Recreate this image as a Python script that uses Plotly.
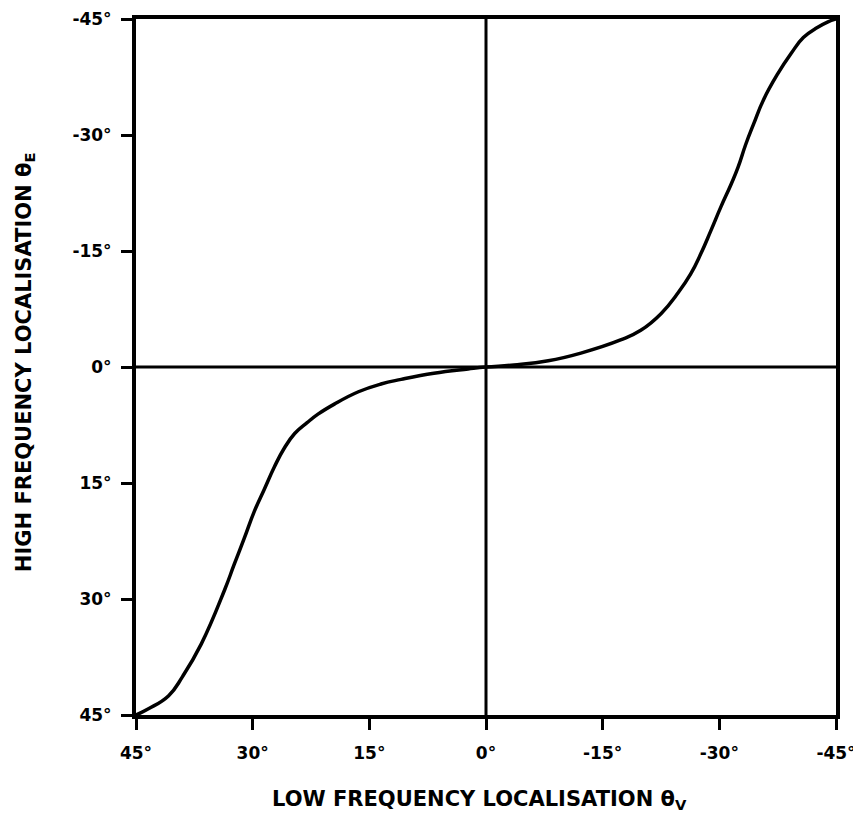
import plotly.graph_objects as go

# Data (degrees)
theta_v = [45.0, 43.4, 40.8, 39.0, 36.6, 33.6, 32.4, 31.1, 29.8, 28.5, 27.2, 26.0, 24.6, 23.0,
           21.6, 19.5, 16.4, 13.5, 10.9, 6.7, 2.3,
           0.0, -3.6, -8.0, -12.2, -17.3, -19.9, -22.5, -24.7, -26.3, -27.6, -28.9, -30.2,
           -31.5, -32.4, -33.4, -34.4, -35.7, -37.5, -39.2, -40.8, -42.6, -43.9, -45.0]
theta_e = [45.0, 44.2, 42.5, 40.0, 35.8, 28.8, 25.6, 22.2, 18.7, 15.8, 12.9, 10.6, 8.6, 7.2,
           6.1, 4.8, 3.2, 2.2, 1.6, 0.8, 0.25,
           0.0, -0.26, -0.8, -1.8, -3.5, -4.75, -6.9, -9.6, -12.0, -14.6, -17.6, -20.7,
           -23.6, -25.8, -28.8, -31.4, -34.6, -37.9, -40.5, -42.6, -43.9, -44.6, -45.0]

tick_vals = [45, 30, 15, 0, -15, -30, -45]
tick_text = ["45°", "30°", "15°", "0°", "-15°", "-30°", "-45°"]

x_title = "LOW FREQUENCY LOCALISATION θ<sub>V</sub>"
y_title = "HIGH FREQUENCY LOCALISATION θ<sub>E</sub>"

fig = go.Figure()
fig.add_trace(go.Scatter(x=theta_v, y=theta_e, mode="lines",
                         line=dict(color="black", width=3.5, shape="spline", smoothing=1.3),
                         showlegend=False, hoverinfo="skip"))

# zero cross lines
fig.add_hline(y=0, line=dict(color="black", width=3))
fig.add_vline(x=0, line=dict(color="black", width=3))

tick_font = dict(family="DejaVu Sans", size=17, color="black", weight="bold")
axis_common = dict(
    tickvals=tick_vals, ticktext=tick_text,
    showgrid=False, zeroline=False,
    showline=True, mirror=True, linecolor="black", linewidth=4,
    ticks="outside", ticklen=11, tickwidth=3, tickcolor="black",
    tickfont=tick_font, automargin=False, ticklabeloverflow="allow",
)

fig.update_xaxes(range=[45, -45], ticklabelstandoff=9, **axis_common)
fig.update_yaxes(range=[45, -45], ticklabelstandoff=6, **axis_common)

title_font = dict(family="DejaVu Sans", size=21, color="black", weight="bold")
fig.add_annotation(text=x_title, xref="paper", yref="paper", x=0.49, y=0,
                   yshift=-85, xanchor="center", yanchor="middle",
                   showarrow=False, font=title_font)
fig.add_annotation(text=y_title, xref="paper", yref="paper", x=0, y=0.507,
                   xshift=-111, xanchor="center", yanchor="middle", textangle=-90,
                   showarrow=False, font=title_font)

# the page adds an 8 px body margin, so the figure is sized to fit the window
fig.update_layout(
    width=853, height=807,
    margin=dict(l=128, r=25, t=11, b=100),
    plot_bgcolor="white", paper_bgcolor="white",
)

fig.write_html("out.html")
